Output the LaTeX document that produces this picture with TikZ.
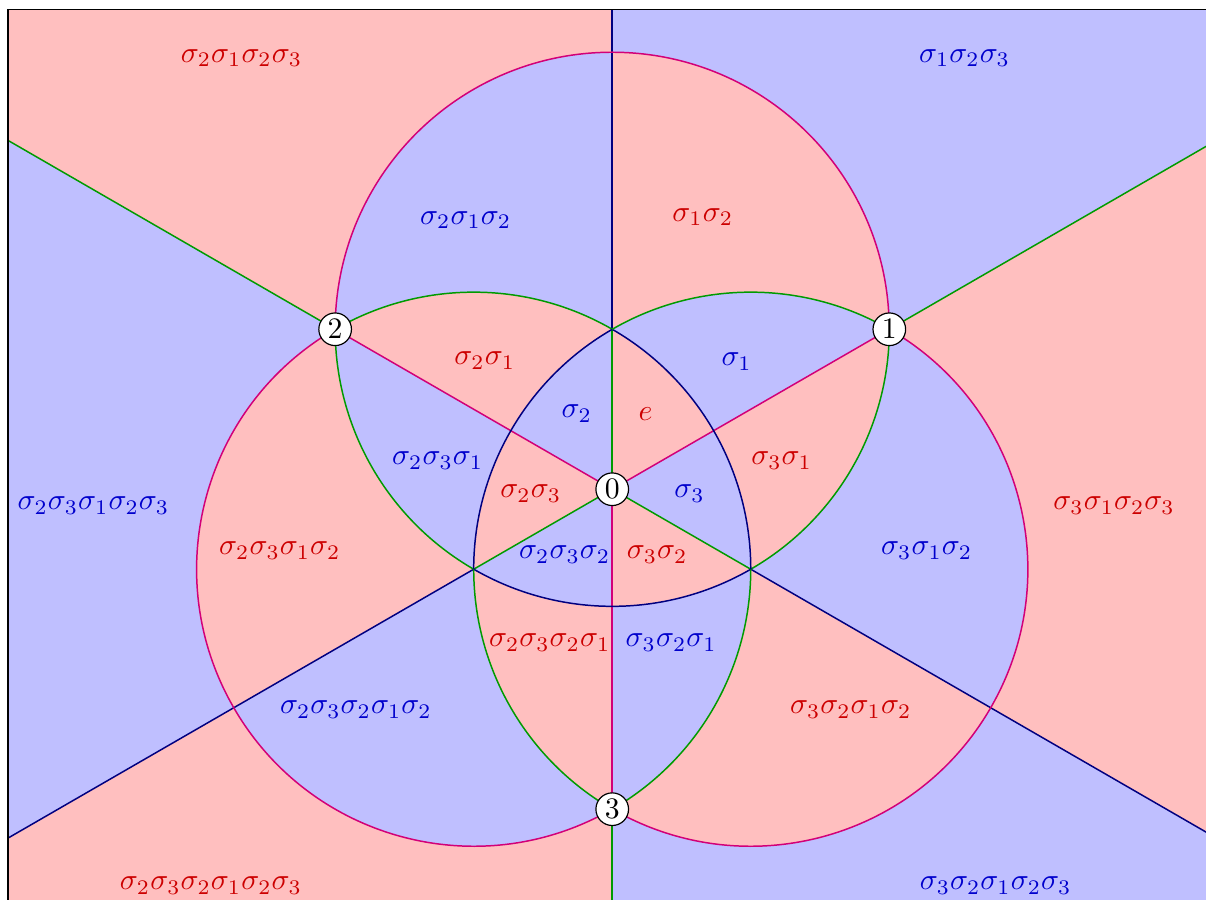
\documentclass[tikz,border=0pt]{standalone}
\usepackage{amsmath,amssymb}
\usepackage{xcolor}
\usepackage{tikz}
\definecolor{wallPink}{RGB}{210,0,120}
\definecolor{wallGreen}{RGB}{0,155,0}
\definecolor{wallNavy}{RGB}{0,0,128}
\definecolor{chamRed}{RGB}{255,191,191}
\definecolor{chamBlue}{RGB}{191,191,255}
\definecolor{txtRed}{RGB}{204,0,0}
\definecolor{txtBlue}{RGB}{0,0,204}
\newcommand{\rr}{1.7321}

\begin{document}
\begin{tikzpicture}[scale=1.89,
  vertex/.style={circle, draw, fill=white, inner sep=1pt}]
\useasboundingbox (-3.828,-2.5625) rectangle (3.7125,3.059);
% vertices of the arrangement
\coordinate (v0) at (0,0);
\coordinate (v1) at (30:2);
\coordinate (v2) at (150:2);
\coordinate (v3) at (270:2);
\coordinate (q1) at (90:1);
\coordinate (q2) at (210:1);
\coordinate (q3) at (330:1);
\foreach \a in {30,90,...,330} \coordinate (far\a) at (\a:8);

\begin{scope}
\clip (-3.78,-3) rectangle (3.78,3);
% chambers: parity of the six half-spaces
\fill[chamBlue] (-3.78,-3) rectangle (3.78,3);
\fill[chamRed, even odd rule]
  (q1) circle[radius=\rr] (q2) circle[radius=\rr] (q3) circle[radius=\rr]
  (90:8) -- (135:11.3) -- (225:11.3) -- (270:8) -- cycle
  (30:8) -- (75:11.3) -- (165:11.3) -- (210:8) -- cycle
  (330:8) -- (15:11.3) -- (105:11.3) -- (150:8) -- cycle;

% straight walls
\foreach \a/\b/\col in {far90/q1/wallNavy, q1/v0/wallGreen, v0/v3/wallPink, v3/far270/wallGreen,
   v0/v1/wallPink, v1/far30/wallGreen, v0/q2/wallGreen, q2/far210/wallNavy,
   v0/v2/wallPink, v2/far150/wallGreen, v0/q3/wallGreen, q3/far330/wallNavy}
  \draw[\col, line width=0.5pt] (\a) -- (\b);

% circular walls
\foreach \a/\sa/\ea/\col in {v2/180/0/wallPink, v1/0/-60/wallGreen, q3/-60/-120/wallNavy, q2/240/180/wallGreen,
   v2/120/300/wallPink, v3/-60/0/wallGreen, q3/0/60/wallNavy, q1/60/120/wallGreen,
   v1/60/-120/wallPink, v3/240/180/wallGreen, q2/180/120/wallNavy, q1/120/60/wallGreen}
  \draw[\col, line width=0.5pt] (\a) arc[start angle=\sa, end angle=\ea, radius=\rr];
\end{scope}

\draw[line width=0.6pt] (-3.78,-3) rectangle (3.78,3);

\foreach \n in {0,1,2,3}
  \node[vertex] (n\n) at (v\n) {$\n$};

% chamber labels
\foreach \x/\y/\w [count=\i] in {-2.318/2.697/\sigma_2\sigma_1\sigma_2\sigma_3,
   0.566/1.703/\sigma_1\sigma_2, -0.797/0.803/\sigma_2\sigma_1, 0.209/0.472/e,
   1.059/0.178/\sigma_3\sigma_1, -0.509/-0.028/\sigma_2\sigma_3,
   3.138/-0.103/\sigma_3\sigma_1\sigma_2\sigma_3, -2.078/-0.384/\sigma_2\sigma_3\sigma_1\sigma_2,
   0.281/-0.409/\sigma_3\sigma_2, -0.391/-0.959/\sigma_2\sigma_3\sigma_2\sigma_1,
   1.491/-1.378/\sigma_3\sigma_2\sigma_1\sigma_2, -2.509/-2.478/\sigma_2\sigma_3\sigma_2\sigma_1\sigma_2\sigma_3}
  \node[txtRed] (red\i) at (\x,\y) {$\w$};
\foreach \x/\y/\w [count=\i] in {2.203/2.697/\sigma_1\sigma_2\sigma_3,
   -0.916/1.684/\sigma_2\sigma_1\sigma_2, 0.778/0.797/\sigma_1, -0.222/0.472/\sigma_2,
   -1.091/0.178/\sigma_2\sigma_3\sigma_1, 0.484/-0.028/\sigma_3,
   -3.244/-0.103/\sigma_2\sigma_3\sigma_1\sigma_2\sigma_3, 1.966/-0.384/\sigma_3\sigma_1\sigma_2,
   -0.297/-0.409/\sigma_2\sigma_3\sigma_2, 0.369/-0.959/\sigma_3\sigma_2\sigma_1,
   -1.603/-1.378/\sigma_2\sigma_3\sigma_2\sigma_1\sigma_2, 2.397/-2.478/\sigma_3\sigma_2\sigma_1\sigma_2\sigma_3}
  \node[txtBlue] (blue\i) at (\x,\y) {$\w$};
\end{tikzpicture}
\end{document}
